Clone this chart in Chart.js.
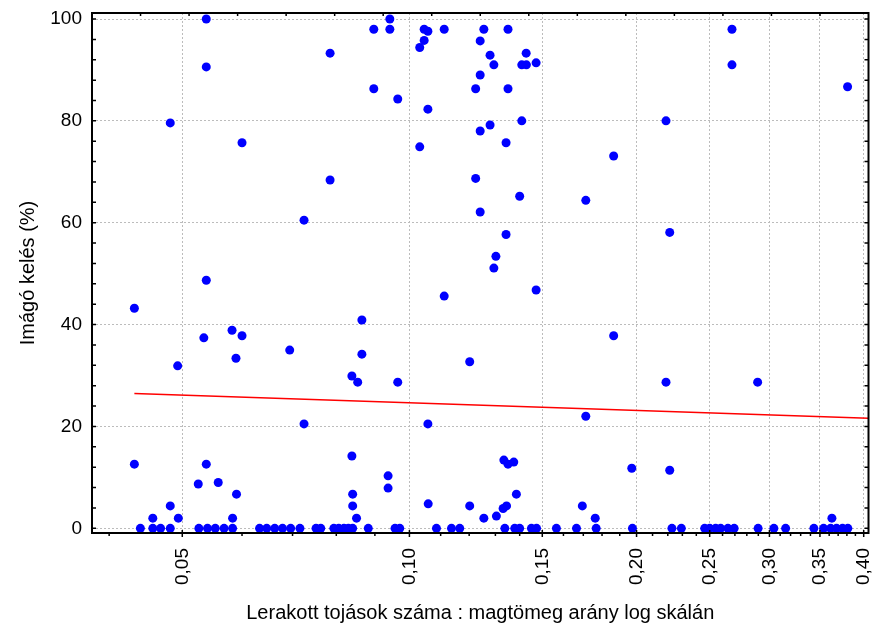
<!DOCTYPE html>
<html>
<head>
<meta charset="utf-8">
<script src="https://cdn.jsdelivr.net/npm/chart.js@4.4.1/dist/chart.umd.min.js"></script>
<style>
  html, body { margin: 0; padding: 0; background: #fff; }
  canvas { display: block; }
</style>
</head>
<body>
<canvas id="chart" width="873" height="628"></canvas>
<script>
// Lerakott tojások / magtömeg arány (x, log) vs imágó kelés % (y)
const ratio = [
  // y = 0 row
  0.0440, 0.0457, 0.0468, 0.0482, 0.0526, 0.0540, 0.0553, 0.0568, 0.0583, 0.0633,
  0.0647, 0.0663, 0.0679, 0.0696, 0.0716, 0.0752, 0.0763, 0.0794, 0.0806, 0.0819,
  0.0830, 0.0841, 0.0882, 0.0957, 0.0971, 0.1086, 0.1137, 0.1166, 0.1338, 0.1379,
  0.1400, 0.1451, 0.1474, 0.1566, 0.1665, 0.1768, 0.1975, 0.2228, 0.2293, 0.2462,
  0.2500, 0.2546, 0.2585, 0.2643, 0.2694, 0.2898, 0.3041, 0.3152, 0.3436, 0.3539,
  0.3616, 0.3682, 0.3750, 0.3811,
  // low values
  0.0457, 0.0482, 0.0494, 0.0525, 0.0558, 0.0583, 0.0590, 0.0538, 0.0432, 0.0841,
  0.0841, 0.0851, 0.0839, 0.0937, 0.0937, 0.1059, 0.1202, 0.1255, 0.1304, 0.1331,
  0.1345, 0.1386, 0.1334, 0.1351, 0.1375, 0.1695, 0.1763, 0.3630, 0.1971, 0.2213,
  // middle
  0.0432, 0.0538, 0.0534, 0.0582, 0.0600, 0.0589, 0.0493, 0.0694, 0.0865, 0.0865,
  0.0839, 0.0854, 0.0965, 0.1202, 0.1112, 0.1472, 0.1865, 0.2188, 0.2894, 0.0725,
  0.1058, 0.1713, 0.0725, 0.0785, 0.1224, 0.1241, 0.1400, 0.1713, 0.2213, 0.1302,
  0.1294, 0.1343,
  // top
  0.0538, 0.0538, 0.0482, 0.0600, 0.0785, 0.0897, 0.0942, 0.0942, 0.0897, 0.0965,
  0.1032, 0.1046, 0.1046, 0.1058, 0.1112, 0.1058, 0.1032, 0.1255, 0.1351, 0.1241,
  0.1279, 0.1294, 0.1428, 0.1409, 0.1429, 0.1472, 0.1241, 0.1224, 0.1351, 0.1409,
  0.1279, 0.1241, 0.1343, 0.1865, 0.2188, 0.2676, 0.2676, 0.3808
];
const emergence = [
  0, 0, 0, 0, 0, 0, 0, 0, 0, 0,
  0, 0, 0, 0, 0, 0, 0, 0, 0, 0,
  0, 0, 0, 0, 0, 0, 0, 0, 0, 0,
  0, 0, 0, 0, 0, 0, 0, 0, 0, 0,
  0, 0, 0, 0, 0, 0, 0, 0, 0, 0,
  0, 0, 0, 0,
  2.0, 4.4, 2.0, 8.7, 9.0, 2.0, 6.7, 12.6, 12.6, 6.7,
  4.4, 2.0, 14.2, 10.3, 7.9, 4.8, 4.4, 2.0, 2.4, 3.9,
  4.4, 6.7, 13.4, 12.6, 13.0, 4.4, 2.0, 2.0, 11.8, 11.4,
  43.2, 48.7, 37.4, 38.9, 37.8, 33.4, 31.9, 35.0, 40.9, 34.2,
  29.9, 28.7, 28.7, 32.7, 45.6, 46.8, 37.8, 28.7, 28.7, 20.5,
  20.5, 22.0, 60.5, 68.4, 68.7, 62.1, 65.2, 64.4, 58.1, 53.4,
  51.1, 57.7,
  100, 90.6, 79.6, 75.7, 93.3, 98.0, 100, 98.0, 86.3, 84.3,
  94.4, 95.8, 98.0, 97.6, 98.0, 82.3, 74.9, 98.0, 98.0, 95.7,
  92.9, 91.0, 93.3, 91.0, 91.0, 91.4, 89.0, 86.3, 86.3, 80.0,
  79.2, 78.0, 75.7, 73.1, 80.0, 98.0, 91.0, 86.7
];

// regression line end points
const fitX = [0.0432, 0.4059];
const fitY = [26.45, 21.6];

const xTicks = [0.05, 0.10, 0.15, 0.20, 0.25, 0.30, 0.35, 0.40];
const xMinorTicks = [0.04, 0.06, 0.07, 0.08, 0.09, 0.11, 0.12, 0.13, 0.14, 0.16, 0.17, 0.18, 0.19,
  0.21, 0.22, 0.23, 0.24, 0.26, 0.27, 0.28, 0.29, 0.31, 0.32, 0.33, 0.34, 0.36, 0.37, 0.38, 0.39];
const yTicks = [0, 20, 40, 60, 80, 100];
const yMinorTicks = [4, 8, 12, 16, 24, 28, 32, 36, 44, 48, 52, 56, 64, 68, 72, 76, 84, 88, 92, 96];
const topTicks = [1, 2, 3, 4, 5, 6, 7, 8, 9, 10, 11, 12, 13, 14, 15];

const FONT = "'Liberation Sans', Arial, sans-serif";

// frame + tick marks like the original software
const framePlugin = {
  id: 'frame',
  afterDraw(chart) {
    const { ctx, chartArea: a, scales } = chart;
    const x = scales.x, y = scales.y, xt = scales.xt;
    ctx.save();
    ctx.strokeStyle = '#000';
    ctx.lineWidth = 2;
    ctx.strokeRect(a.left, a.top, a.right - a.left, a.bottom - a.top);
    ctx.lineWidth = 1.5;
    ctx.beginPath();
    xTicks.forEach(v => {
      const px = x.getPixelForValue(v);
      ctx.moveTo(px, a.bottom - 3); ctx.lineTo(px, a.bottom + 4);
    });
    xMinorTicks.forEach(v => {
      const px = x.getPixelForValue(v);
      ctx.moveTo(px, a.bottom); ctx.lineTo(px, a.bottom + 3);
    });
    yTicks.concat(yMinorTicks).forEach(v => {
      const py = y.getPixelForValue(v);
      ctx.moveTo(a.left, py); ctx.lineTo(a.left + 4, py);
      ctx.moveTo(a.right, py); ctx.lineTo(a.right - 4, py);
    });
    topTicks.forEach(k => {
      const px = xt.getPixelForValue(k);
      ctx.moveTo(px, a.top); ctx.lineTo(px, a.top + 3);
    });
    ctx.stroke();
    ctx.restore();
  }
};

const ctx = document.getElementById('chart').getContext('2d');
new Chart(ctx, {
  type: 'scatter',
  data: {
    datasets: [
      {
        data: fitX.map((v, i) => ({ x: v, y: fitY[i] })),
        showLine: true,
        borderColor: '#ff0000',
        borderWidth: 1.5,
        pointRadius: 0,
        order: 0
      },
      {
        data: ratio.map((v, i) => ({ x: v, y: emergence[i] })),
        backgroundColor: '#0000ff',
        borderWidth: 0,
        pointRadius: 4.5,
        pointHoverRadius: 4.5,
        order: 1
      }
    ]
  },
  options: {
    responsive: false,
    animation: false,
    devicePixelRatio: 1,
    layout: { padding: { top: 13, right: 4, left: 0, bottom: 0 } },
    plugins: { legend: { display: false }, tooltip: { enabled: false } },
    scales: {
      x: {
        type: 'logarithmic',
        bounds: 'data',
        min: 0.03796,
        max: 0.4059,
        afterBuildTicks: s => { s.ticks = xTicks.map(v => ({ value: v })); },
        afterFit: s => { s.height = 95; s.paddingLeft = 0; s.paddingRight = 0; },
        grid: { color: '#bcbcbc', lineWidth: 1, drawTicks: false },
        border: { display: false, dash: [2, 2] },
        ticks: {
          autoSkip: false,
          minRotation: 90,
          maxRotation: 90,
          padding: 15,
          color: '#000',
          font: { family: FONT, size: 19 },
          callback: v => v.toFixed(2).replace('.', ',')
        },
        title: {
          display: true,
          text: 'Lerakott tojások száma : magtömeg arány log skálán',
          color: '#000',
          font: { family: FONT, size: 20 },
          padding: { top: 0, bottom: 3 }
        }
      },
      xt: {
        type: 'linear',
        position: 'top',
        display: false,
        min: 0,
        max: 16
      },
      y: {
        type: 'linear',
        min: -0.92,
        max: 101.18,
        afterBuildTicks: s => { s.ticks = yTicks.map(v => ({ value: v })); },
        afterFit: s => { s.width = 92; s.paddingTop = 0; s.paddingBottom = 0; },
        grid: { color: '#bcbcbc', lineWidth: 1, drawTicks: false },
        border: { display: false, dash: [2, 2] },
        ticks: {
          padding: 10,
          color: '#000',
          font: { family: FONT, size: 19 },
          callback: v => String(v)
        },
        title: {
          display: true,
          text: 'Imágó kelés (%)',
          color: '#000',
          font: { family: FONT, size: 20 },
          padding: { top: 16, bottom: 0 }
        }
      }
    }
  },
  plugins: [framePlugin]
});
</script>
</body>
</html>
